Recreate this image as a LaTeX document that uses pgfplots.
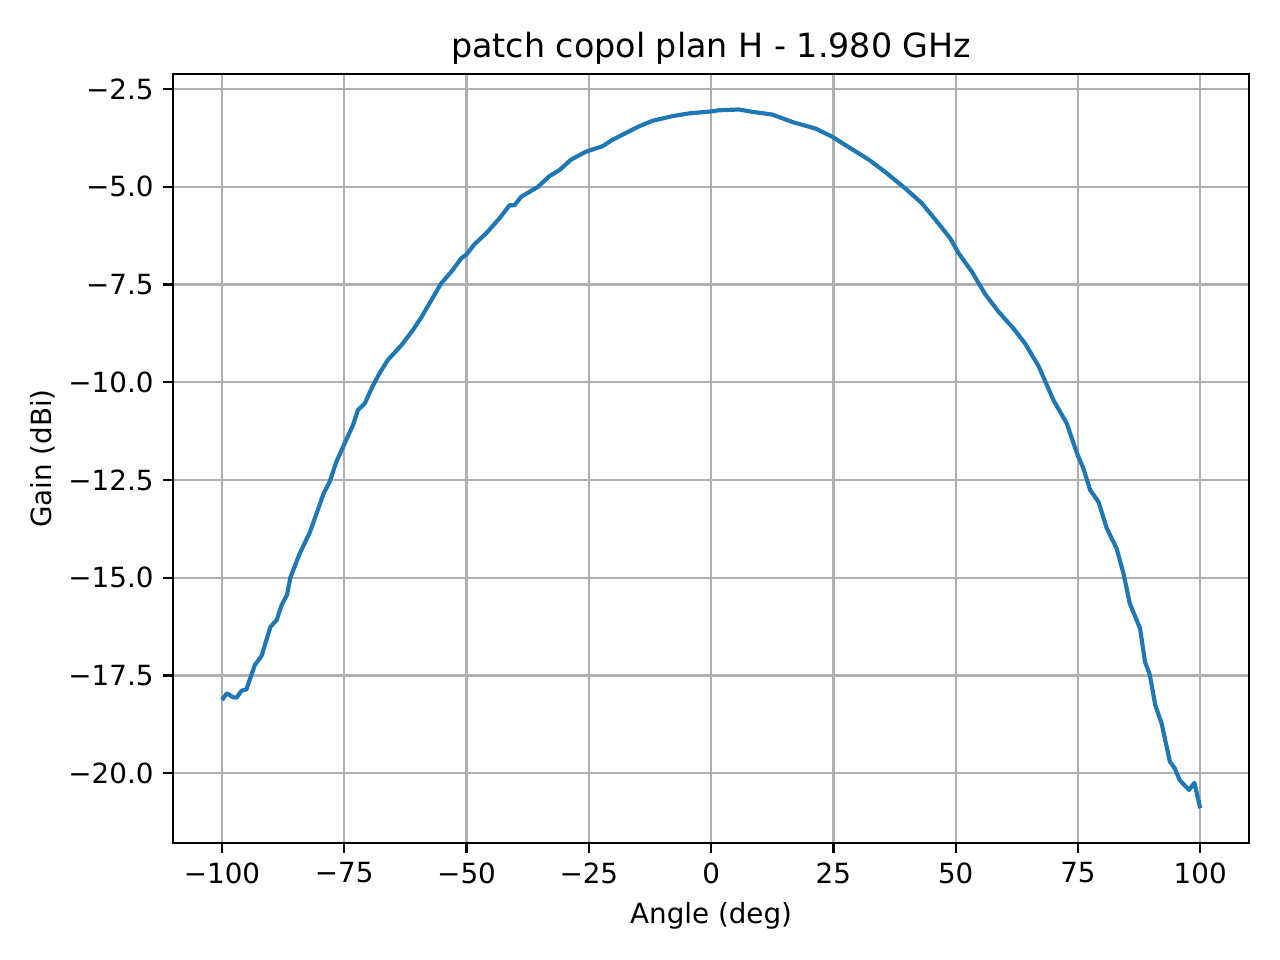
\documentclass[border=0pt]{standalone}
\usepackage{fontspec}
\setmainfont{DejaVu Sans}
\usepackage{pgfplots}
\pgfplotsset{compat=1.18}
\definecolor{mplblue}{HTML}{1F77B4}
\definecolor{gridgray}{HTML}{B0B0B0}
\begin{document}
\begin{tikzpicture}
\path[use as bounding box] (-62.3pt,-42.1pt) rectangle (398.5pt,303.5pt);
\begin{axis}[
  at={(0,0)}, anchor=south west,
  scale only axis, width=387.4pt, height=276.8pt,
  xmin=-110, xmax=110, ymin=-21.79, ymax=-2.116,
  xtick={-100,-75,-50,-25,0,25,50,75,100},
  xticklabels={−100,−75,−50,−25,0,25,50,75,100},
  ytick={-20,-17.5,-15,-12.5,-10,-7.5,-5,-2.5},
  yticklabels={−20.0,−17.5,−15.0,−12.5,−10.0,−7.5,−5.0,−2.5},
  tick align=outside, major tick length=3.5pt,
  xtick pos=bottom, ytick pos=left,
  tick style={black, line width=0.8pt},
  axis line style={line width=0.8pt},
  grid=major, major grid style={gridgray, line width=0.8pt},
  ticklabel style={font=\fontsize{10}{12}\selectfont},
  title={patch copol plan H - 1.980 GHz},
  title style={font=\fontsize{12}{14}\selectfont, yshift=-6pt},
  xlabel={Angle (deg)}, ylabel={Gain (dBi)},
  label style={font=\fontsize{10}{12}\selectfont},
  ylabel style={yshift=-2pt},
]
\addplot[mplblue, line width=1.5pt, line join=round] coordinates {
(-100,-18.13) (-99,-17.96) (-97.7,-18.06) (-97,-18.07) (-96,-17.89) (-95,-17.86)
(-93.3,-17.24) (-91.9,-17.0) (-90.1,-16.26) (-88.8,-16.08) (-87.8,-15.70) (-86.7,-15.44)
(-86,-14.99) (-84.1,-14.38) (-82,-13.83) (-80.3,-13.23) (-79.2,-12.84) (-78,-12.55)
(-76.6,-12.03) (-74.9,-11.56) (-73.2,-11.09) (-72.2,-10.71) (-70.8,-10.54) (-69.4,-10.15)
(-67.8,-9.77) (-66.1,-9.43) (-63.3,-9.05) (-61,-8.67) (-59.2,-8.33) (-57.2,-7.90)
(-55.2,-7.47) (-53.1,-7.17) (-51.1,-6.83) (-50,-6.73) (-48.4,-6.47) (-46,-6.19)
(-43.3,-5.81) (-41.2,-5.47) (-40.2,-5.47) (-38.8,-5.25) (-35.4,-5.0) (-33.1,-4.73)
(-31,-4.57) (-28.6,-4.30) (-25.6,-4.10) (-22.2,-3.96) (-20.1,-3.79) (-14.7,-3.45)
(-12,-3.31) (-7.9,-3.19) (-4.5,-3.12) (0,-3.07) (1.6,-3.04) (5.7,-3.02)
(8.4,-3.08) (12.5,-3.15) (16.6,-3.34) (21.4,-3.51) (24.8,-3.72) (28.2,-3.99)
(32.2,-4.30) (35.6,-4.62) (39.7,-5.04) (43.1,-5.42) (46.5,-5.94) (48.9,-6.32)
(50.6,-6.70) (53.3,-7.17) (56,-7.74) (58.8,-8.20) (61.8,-8.62) (64.2,-9.01)
(67,-9.60) (70,-10.46) (72.7,-11.05) (74.8,-11.82) (76.1,-12.20) (77.5,-12.76)
(79.2,-13.06) (80.9,-13.74) (82.9,-14.25) (84.3,-14.89) (85.6,-15.66) (87.7,-16.30)
(88.7,-17.15) (89.7,-17.49) (90.8,-18.26) (92.1,-18.73) (93.8,-19.71) (94.8,-19.88)
(95.8,-20.18) (97.7,-20.43) (98.8,-20.25) (100,-20.90)
};
\end{axis}
\end{tikzpicture}
\end{document}
